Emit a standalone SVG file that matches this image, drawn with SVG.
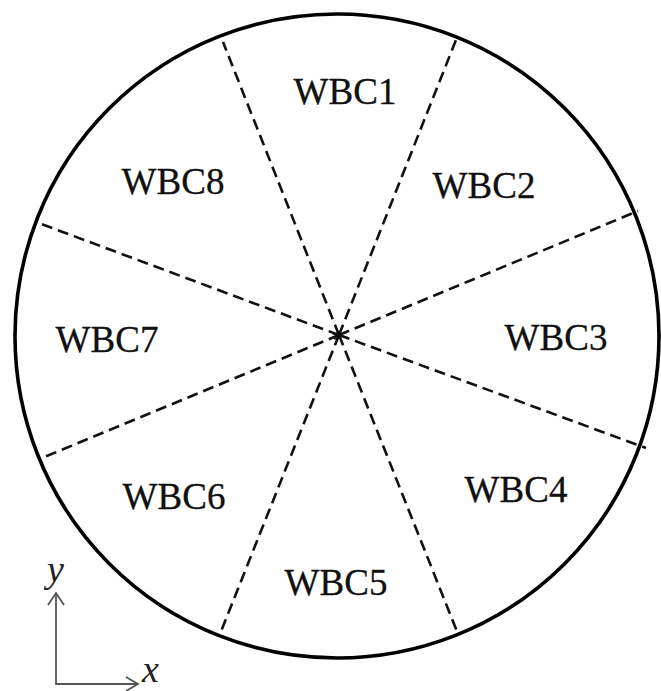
<svg xmlns="http://www.w3.org/2000/svg" width="661" height="691" viewBox="0 0 661 691">
<style>
.lbl{font-family:"Liberation Serif","Times New Roman",serif;font-size:37px;fill:#111;stroke:#111;stroke-width:0.3;text-anchor:middle}
.ax{font-family:"Liberation Serif","Times New Roman",serif;font-size:38px;font-style:italic;fill:#222}
.div{stroke:#111;stroke-width:2.6;stroke-dasharray:11 6;fill:none}
.axl{stroke:#555;stroke-width:1.8;fill:none}
</style>
<rect width="661" height="691" fill="#fff"/>
<g id="wafer">
<circle cx="337" cy="336" r="322" fill="none" stroke="#000" stroke-width="3.6"/>
</g>
<g id="connectors">
<line class="div" x1="339" y1="335" x2="223" y2="42"/>
<line class="div" x1="339" y1="335" x2="456" y2="40"/>
<line class="div" x1="339" y1="335" x2="638" y2="211"/>
<line class="div" x1="339" y1="335" x2="646" y2="448"/>
<line class="div" x1="339" y1="335" x2="458" y2="634"/>
<line class="div" x1="339" y1="335" x2="220" y2="634"/>
<line class="div" x1="339" y1="335" x2="42" y2="458"/>
<line class="div" x1="339" y1="335" x2="36" y2="222"/>
<path d="M332 333 L340 337 M334 339 L340 337 L337 331" stroke="#111" stroke-width="1.8" fill="none"/>
</g>
<g id="WBC1"><text class="lbl" x="345" y="104">WBC1</text></g>
<g id="WBC2"><text class="lbl" x="484" y="198">WBC2</text></g>
<g id="WBC3"><text class="lbl" x="556" y="350">WBC3</text></g>
<g id="WBC4"><text class="lbl" x="516" y="502">WBC4</text></g>
<g id="WBC5"><text class="lbl" x="336" y="595">WBC5</text></g>
<g id="WBC6"><text class="lbl" x="174" y="509">WBC6</text></g>
<g id="WBC7"><text class="lbl" x="107" y="352">WBC7</text></g>
<g id="WBC8"><text class="lbl" x="173" y="194">WBC8</text></g>
<g id="axes">
<polyline class="axl" points="56,593 56,684 138,684"/>
<polyline class="axl" points="48,605 56,593 64,605"/>
<polyline class="axl" points="126,677 138,684 126,691"/>
<text class="ax" x="47" y="582">y</text>
<text class="ax" x="142" y="682">x</text>
</g>
</svg>
